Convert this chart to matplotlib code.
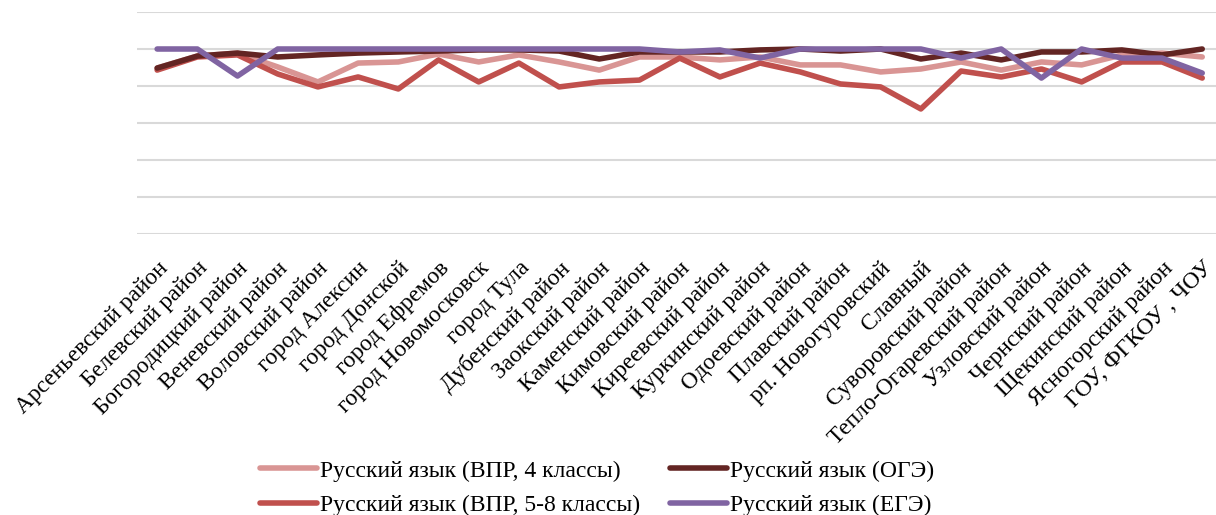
import numpy as np
import matplotlib
matplotlib.use("Agg")
import matplotlib.pyplot as plt

plt.rcParams['font.family'] = ['Liberation Serif', 'DejaVu Serif']

# Data
districts = [
    "Арсеньевский район", "Белевский район", "Богородицкий район",
    "Веневский район", "Воловский район", "город Алексин", "город Донской",
    "город Ефремов", "город Новомосковск", "город Тула", "Дубенский район",
    "Заокский район", "Каменский район", "Кимовский район",
    "Киреевский район", "Куркинский район", "Одоевский район",
    "Плавский район", "рп. Новогуровский", "Славный", "Суворовский район",
    "Тепло-Огаревский район", "Узловский район", "Чернский район",
    "Щекинский район", "Ясногорский район", "ГОУ, ФГКОУ , ЧОУ",
]

vpr4 = [89.7, 96.2, 97.8, 90.3, 82.2, 92.4, 93.0, 97.3, 93.0, 96.8, 93.0,
        88.6, 95.7, 95.7, 94.1, 95.7, 91.4, 91.4, 87.6, 89.2, 93.0, 88.6,
        93.0, 91.4, 96.8, 97.8, 95.7]
vpr58 = [88.6, 95.7, 96.8, 86.5, 79.5, 84.9, 78.4, 94.1, 82.2, 92.4, 79.5,
         82.2, 83.2, 95.1, 84.9, 92.4, 87.6, 81.1, 79.5, 67.6, 88.1, 84.9,
         89.2, 82.2, 93.0, 93.0, 84.3]
oge = [89.7, 96.2, 97.8, 95.7, 96.8, 97.8, 98.4, 98.9, 99.5, 99.5, 98.9,
       94.6, 98.4, 98.4, 98.4, 99.5, 100.0, 98.9, 100.0, 94.6, 97.8, 94.1,
       98.4, 98.4, 99.5, 96.8, 100.0]
ege = [100, 100, 85.4, 100, 100, 100, 100, 100, 100, 100, 100, 100, 100,
       98.4, 99.5, 95.1, 100, 100, 100, 100, 95.1, 100, 84.3, 100, 95.1,
       95.1, 87.0]

series = [
    ("Русский язык (ВПР, 4 классы)", vpr4, "#d99594"),
    ("Русский язык (ВПР, 5-8 классы)", vpr58, "#c0504d"),
    ("Русский язык (ОГЭ)", oge, "#632523"),
    ("Русский язык (ЕГЭ)", ege, "#8064a2"),
]

fig = plt.figure(figsize=(12.16, 5.15), dpi=100)
ax = fig.add_axes([0.1127, 0.5456, 0.8925, 0.4311])

x = np.arange(len(districts))
for label, vals, color in series:
    ax.plot(x, vals, color=color, linewidth=4, label=label,
            solid_capstyle='round', solid_joinstyle='round')

ax.set_xlim(-0.5, len(districts) - 0.5)
ax.set_ylim(0, 120)
ax.set_yticks(np.arange(0, 121, 20))
ax.yaxis.grid(True, color="#d9d9d9", linewidth=1.5)
ax.set_axisbelow(True)
ax.tick_params(axis='y', left=False, labelleft=False)
ax.tick_params(axis='x', length=0, pad=17)
for s in ax.spines.values():
    s.set_visible(False)

ax.set_xticks(x)
ax.set_xticklabels(districts, rotation=45, ha='right', va='top',
                   rotation_mode='anchor', fontsize=16.8)

fig.legend(loc='center', bbox_to_anchor=(0.491, 0.052), ncol=2,
           frameon=False, fontsize=17, handlelength=2.4, handletextpad=0.12,
           columnspacing=1.3, labelspacing=0.55)

fig.savefig("out.png", dpi=100)
